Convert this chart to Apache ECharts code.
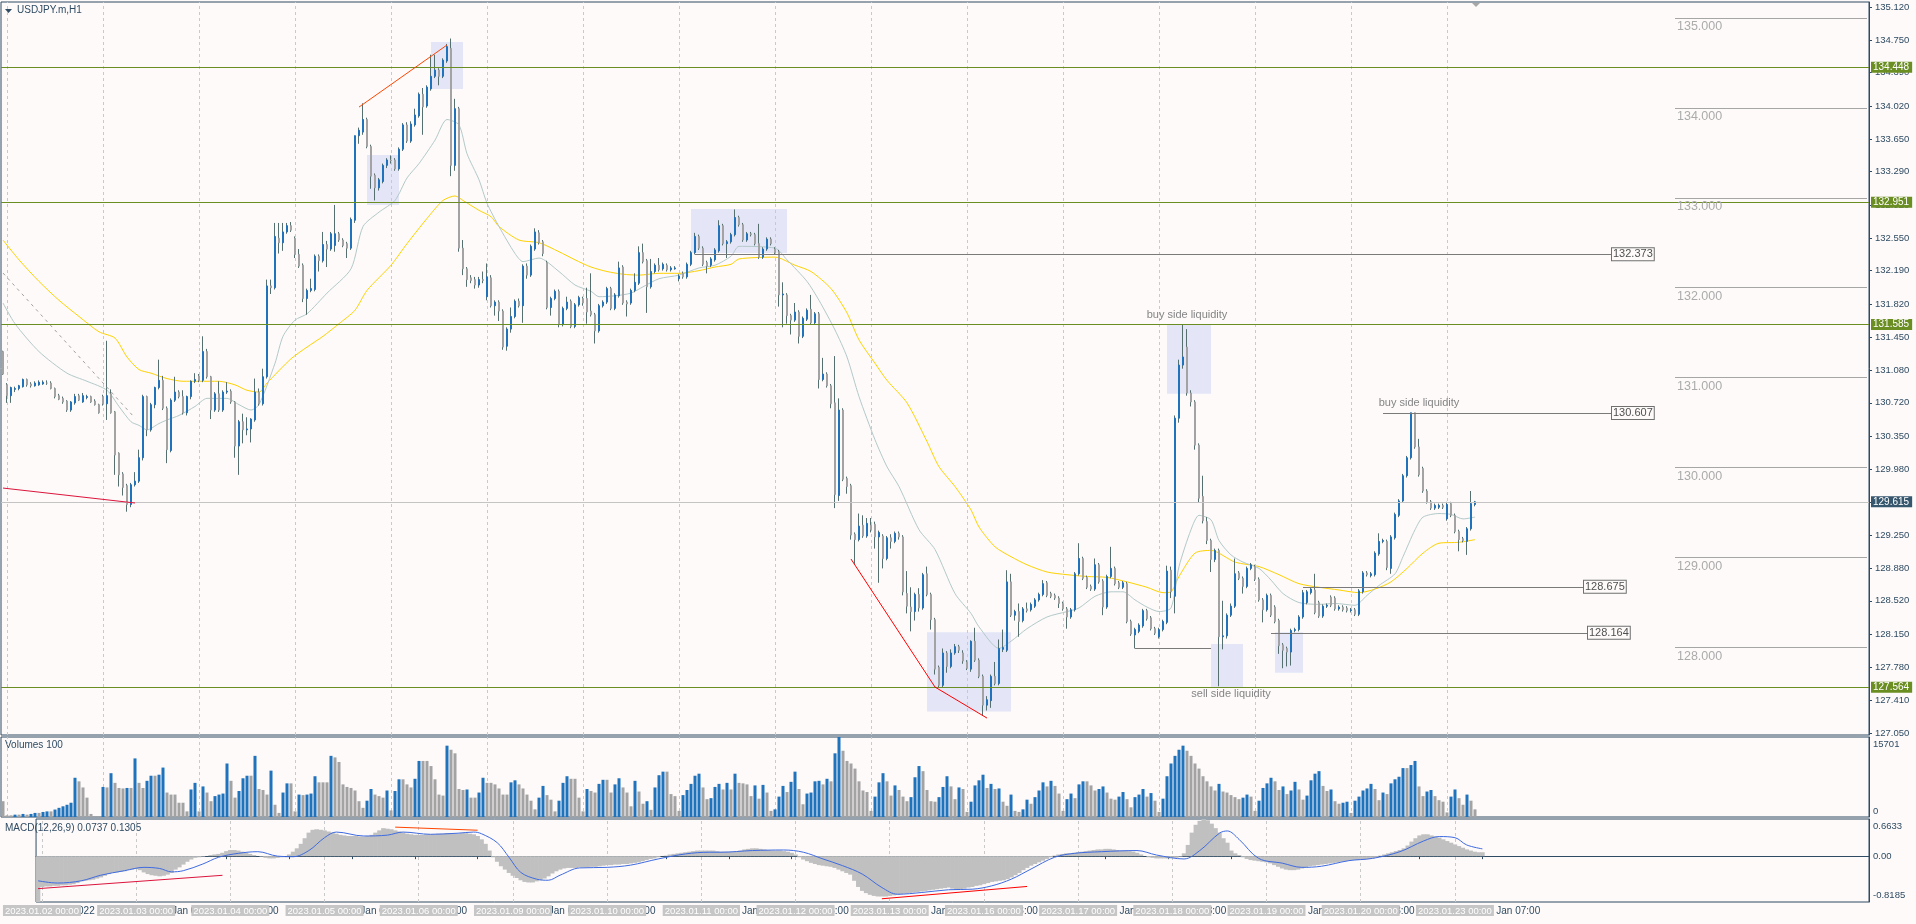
<!DOCTYPE html>
<html><head><meta charset="utf-8">
<script src="https://cdn.jsdelivr.net/npm/echarts@6/dist/echarts.min.js"></script>
<style>html,body{margin:0;padding:0;background:#FDFAF9;}#c{width:1916px;height:924px;}</style>
</head><body><div id="c"></div>
<script>
// ---------------- DATA ----------------
const symbolTitle = 'USDJPY.m,H1';
const volumeTitle = 'Volumes 100';
const macdTitle = 'MACD(12,26,9) 0.0737 0.1305';
const dayLabels = ['2023.01.02','2023.01.03','2023.01.04','2023.01.05','2023.01.06','2023.01.09','2023.01.10','2023.01.11','2023.01.12','2023.01.13','2023.01.16','2023.01.17','2023.01.18','2023.01.19','2023.01.20','2023.01.23'];
const firstBarLabel = '2022.12.30 23:00';
const firstAxisLabel = '30 Dec 2022';
const monthNames = ['Jan','Feb','Mar','Apr','May','Jun','Jul','Aug','Sep','Oct','Nov','Dec'];
const barsOnLastDay = 8;
const totalSlots = 467;
const axisLabelEvery = 16;

// [open, high, low, close] per H1 bar
const priceBars = [
[131.29,131.30,131.03,131.04],[130.92,130.94,130.72,130.80],[130.80,130.90,130.72,130.89],[130.87,130.90,130.84,130.88],[130.88,130.92,130.86,130.91],[130.90,130.99,130.89,130.98],[130.98,130.99,130.90,130.92],[130.93,130.95,130.89,130.91],[130.91,130.96,130.90,130.94],[130.92,130.97,130.91,130.95],
[130.93,130.97,130.92,130.95],[130.94,130.97,130.92,130.94],[130.94,130.96,130.87,130.88],[130.88,130.89,130.77,130.79],[130.80,130.82,130.75,130.76],[130.77,130.79,130.71,130.73],[130.74,130.75,130.62,130.64],[130.64,130.74,130.62,130.73],[130.72,130.82,130.70,130.79],[130.80,130.82,130.74,130.75],
[130.73,130.83,130.72,130.80],[130.78,130.81,130.76,130.79],[130.79,130.80,130.72,130.73],[130.74,130.76,130.69,130.70],[130.70,130.71,130.60,130.61],[130.79,130.81,130.69,130.71],[130.71,131.41,130.53,130.80],[130.82,130.87,130.60,130.61],[130.62,130.63,129.92,130.14],[130.16,130.17,129.79,129.92],
[129.93,129.95,129.69,129.78],[129.80,129.82,129.51,129.59],[129.59,129.83,129.56,129.81],[129.81,129.95,129.79,129.85],[129.85,130.20,129.83,130.11],[130.11,130.81,130.08,130.79],[130.79,130.80,130.35,130.42],[130.42,130.72,130.40,130.70],[130.70,130.90,130.66,130.89],[130.89,131.20,130.87,130.97],
[130.97,131.02,130.64,130.66],[130.66,130.68,130.05,130.20],[130.19,130.77,130.17,130.75],[130.75,131.01,130.73,130.84],[130.84,130.86,130.77,130.79],[130.79,130.86,130.59,130.61],[130.61,130.80,130.58,130.79],[130.79,130.97,130.76,130.96],[130.96,131.05,130.94,130.98],[131.02,131.04,130.95,130.97],
[130.97,131.46,130.95,131.29],[131.29,131.32,130.99,131.01],[131.01,131.02,130.54,130.64],[130.64,130.84,130.62,130.82],[130.82,130.96,130.62,130.64],[130.64,130.86,130.62,130.84],[130.84,130.95,130.82,130.85],[130.85,130.87,130.71,130.73],[130.73,130.74,130.11,130.24],[130.24,130.53,129.92,130.51],
[130.51,130.60,130.27,130.42],[130.42,130.56,130.36,130.43],[130.43,130.55,130.28,130.54],[130.53,130.99,130.51,130.84],[130.84,130.88,130.69,130.71],[130.71,131.10,130.69,131.01],[131.01,132.09,130.99,132.02],[132.02,132.09,131.93,132.00],[132.00,132.72,131.98,132.57],[132.55,132.72,132.38,132.50],
[132.50,132.72,132.41,132.62],[132.62,132.72,132.60,132.69],[132.69,132.73,132.62,132.64],[132.55,132.57,132.33,132.37],[132.37,132.43,132.22,132.24],[132.25,132.27,131.84,131.88],[131.88,131.99,131.70,131.97],[131.97,132.10,131.95,131.99],[131.98,132.37,131.96,132.35],[132.35,132.37,132.18,132.30],
[132.30,132.62,132.28,132.48],[132.48,132.52,132.23,132.43],[132.43,132.62,132.41,132.60],[132.47,132.92,132.40,132.60],[132.60,132.62,132.51,132.53],[132.53,132.55,132.45,132.47],[132.49,132.51,132.33,132.44],[132.44,132.78,132.42,132.76],[132.75,133.69,132.72,133.69],[133.69,133.78,133.60,133.75],
[133.73,134.05,133.70,133.87],[133.87,133.89,133.55,133.57],[133.57,133.59,133.10,133.24],[133.25,133.27,132.97,133.11],[133.11,133.22,133.08,133.20],[133.18,133.38,133.16,133.36],[133.36,133.44,133.33,133.42],[133.42,133.47,133.38,133.41],[133.42,133.44,133.30,133.32],[133.32,133.56,133.30,133.54],
[133.54,133.83,133.52,133.81],[133.81,133.84,133.61,133.63],[133.63,133.85,133.61,133.82],[133.81,133.99,133.79,133.92],[133.91,134.17,133.89,134.15],[134.15,134.22,133.70,134.01],[134.02,134.25,134.00,134.23],[134.21,134.59,134.19,134.35],[134.35,134.59,134.33,134.42],[134.42,134.44,134.25,134.35],
[134.35,134.55,134.33,134.53],[134.52,134.71,134.50,134.68],[134.66,134.77,133.24,133.36],[133.36,134.10,133.30,133.99],[133.99,134.01,132.40,132.44],[132.44,132.53,132.14,132.21],[132.21,132.23,132.01,132.09],[132.11,132.14,132.05,132.08],[132.09,132.12,131.99,132.03],[132.03,132.12,132.00,132.09],
[132.09,132.18,132.05,132.08],[131.90,132.27,131.86,132.12],[132.11,132.14,131.78,131.80],[131.80,131.86,131.69,131.84],[131.84,131.86,131.63,131.74],[131.74,131.76,131.31,131.34],[131.35,131.56,131.30,131.54],[131.54,131.78,131.50,131.68],[131.68,131.87,131.66,131.85],[131.85,131.88,131.78,131.80],
[131.80,132.26,131.61,132.24],[132.24,132.27,132.10,132.14],[132.14,132.48,132.12,132.46],[132.43,132.66,132.41,132.62],[132.61,132.64,132.48,132.50],[132.51,132.53,132.35,132.38],[132.28,132.30,131.76,131.78],[131.78,131.90,131.69,131.88],[131.88,131.98,131.86,131.96],[131.96,131.98,131.56,131.59],
[131.59,131.79,131.57,131.77],[131.77,131.90,131.75,131.84],[131.85,131.87,131.55,131.57],[131.57,131.83,131.55,131.81],[131.81,131.91,131.79,131.89],[131.88,131.90,131.80,131.83],[131.88,132.00,131.60,131.73],[131.74,132.16,131.68,131.70],[131.70,131.72,131.38,131.52],[131.52,131.82,131.50,131.80],
[131.80,131.86,131.78,131.84],[131.84,132.01,131.82,131.99],[131.99,132.01,131.75,131.77],[131.77,131.94,131.75,131.92],[131.91,132.29,131.89,132.22],[132.23,132.25,131.81,131.83],[131.84,131.86,131.68,131.82],[131.83,131.99,131.81,131.97],[131.97,132.16,131.95,132.06],[132.05,132.46,132.03,132.39],
[132.39,132.49,132.27,132.29],[132.30,132.32,131.72,132.01],[132.01,132.32,131.99,132.18],[132.18,132.27,132.16,132.25],[132.25,132.33,132.18,132.20],[132.21,132.28,132.19,132.26],[132.25,132.27,132.18,132.20],[132.20,132.24,132.18,132.22],[132.21,132.24,132.20,132.22],[132.10,132.15,132.07,132.13],
[132.16,132.18,132.10,132.12],[132.12,132.28,132.10,132.26],[132.26,132.41,132.24,132.39],[132.39,132.61,132.37,132.57],[132.57,132.59,132.42,132.44],[132.44,132.46,132.24,132.26],[132.28,132.30,132.16,132.24],[132.25,132.34,132.23,132.32],[132.31,132.44,132.29,132.42],[132.41,132.75,132.39,132.69],
[132.69,132.71,132.47,132.49],[132.49,132.53,132.33,132.51],[132.51,132.61,132.49,132.59],[132.59,132.87,132.57,132.78],[132.78,132.80,132.68,132.70],[132.70,132.72,132.51,132.53],[132.53,132.62,132.51,132.60],[132.60,132.62,132.57,132.59],[132.59,132.61,132.47,132.49],[132.49,132.71,132.32,132.34],
[132.34,132.45,132.32,132.43],[132.43,132.56,132.41,132.54],[132.54,132.56,132.47,132.49],[132.43,132.45,132.37,132.39],[132.40,132.42,131.79,131.92],[131.92,132.06,131.56,131.93],[131.92,131.94,131.60,131.69],[131.69,131.71,131.48,131.64],[131.64,131.83,131.62,131.73],[131.73,131.75,131.38,131.46],
[131.46,131.68,131.44,131.66],[131.65,131.77,131.63,131.75],[131.76,131.92,131.59,131.61],[131.61,131.73,131.59,131.71],[131.71,131.73,130.88,130.98],[130.98,131.22,130.96,131.04],[131.04,131.06,130.89,130.91],[130.91,130.93,130.66,130.71],[130.72,131.24,129.55,129.70],[129.69,130.77,129.63,130.64],
[130.64,130.66,129.85,129.87],[129.88,129.90,129.71,129.79],[129.80,129.82,129.20,129.25],[129.26,129.28,128.93,129.20],[129.20,129.49,129.18,129.35],[129.36,129.47,129.22,129.24],[129.24,129.44,129.22,129.38],[129.36,129.44,129.28,129.31],[129.37,129.40,129.10,129.23],[129.23,129.30,128.72,129.28],
[129.24,129.26,128.88,128.99],[128.99,129.24,128.97,129.22],[129.22,129.26,129.10,129.18],[129.18,129.29,129.16,129.27],[129.27,129.29,129.20,129.23],[129.23,129.25,128.58,128.62],[128.60,128.85,128.38,128.46],[128.45,128.67,128.18,128.40],[128.40,128.61,128.30,128.59],[128.59,128.66,128.40,128.44],
[128.44,128.83,128.42,128.81],[128.82,128.90,128.57,128.59],[128.59,128.61,128.20,128.31],[128.31,128.33,127.70,127.76],[127.78,127.80,127.55,127.58],[127.58,127.99,127.56,127.94],[127.94,127.96,127.72,127.79],[127.79,127.98,127.77,127.94],[127.94,128.04,127.92,128.01],[128.01,128.03,127.94,127.97],
[127.94,127.97,127.82,127.85],[127.84,127.86,127.75,127.77],[127.76,128.08,127.73,128.07],[128.07,128.22,127.84,127.86],[127.86,127.88,127.66,127.68],[127.68,127.70,127.24,127.36],[127.36,127.46,127.30,127.42],[127.41,127.70,127.33,127.68],[127.68,127.84,127.58,127.60],[127.60,128.09,127.58,127.99],
[127.98,128.20,127.95,128.00],[127.97,128.86,127.95,128.73],[128.73,128.82,128.34,128.36],[128.36,128.42,128.30,128.40],[128.40,128.49,128.12,128.29],[128.30,128.45,128.28,128.43],[128.43,128.50,128.39,128.41],[128.42,128.50,128.40,128.48],[128.46,128.55,128.44,128.53],[128.53,128.61,128.51,128.59],
[128.59,128.75,128.57,128.71],[128.72,128.74,128.56,128.58],[128.60,128.62,128.55,128.57],[128.58,128.60,128.53,128.55],[128.55,128.57,128.44,128.49],[128.49,128.51,128.41,128.43],[128.43,128.45,128.21,128.34],[128.34,128.44,128.32,128.42],[128.42,128.84,128.40,128.82],[128.82,129.16,128.80,128.99],
[128.99,129.01,128.75,128.77],[128.78,128.80,128.65,128.67],[128.68,128.70,128.63,128.65],[128.65,128.99,128.63,128.92],[128.92,128.94,128.71,128.73],[128.74,128.76,128.36,128.45],[128.45,128.81,128.43,128.79],[128.79,129.12,128.77,128.88],[128.88,128.90,128.69,128.71],[128.72,128.74,128.65,128.67],
[128.67,128.74,128.65,128.72],[128.71,128.73,128.27,128.29],[128.29,128.31,128.13,128.15],[128.14,128.22,127.99,128.20],[128.18,128.27,128.16,128.25],[128.24,128.43,128.22,128.41],[128.41,128.43,128.30,128.32],[128.33,128.35,128.19,128.21],[128.21,128.23,128.14,128.16],[128.12,128.22,128.10,128.20],
[128.20,128.31,128.18,128.29],[128.28,128.91,128.26,128.85],[128.86,128.90,128.55,128.62],[128.57,130.58,128.38,130.55],[130.55,131.20,130.50,131.14],[131.14,131.59,131.10,131.23],[131.34,131.54,130.80,130.83],[130.83,130.86,130.68,130.73],[130.73,130.75,130.20,130.25],[130.25,130.27,129.61,129.66],
[129.68,129.91,129.38,129.41],[129.40,129.45,129.15,129.19],[129.19,129.21,128.84,128.98],[128.98,129.10,128.95,129.08],[129.08,129.10,127.57,128.12],[128.12,128.52,127.98,128.13],[128.13,128.38,128.10,128.36],[128.36,128.49,128.34,128.46],[128.46,128.99,128.44,128.82],[128.83,128.85,128.75,128.77],
[128.77,128.79,128.60,128.68],[128.68,128.90,128.66,128.88],[128.88,128.94,128.86,128.92],[128.90,128.92,128.74,128.76],[128.76,128.78,128.51,128.53],[128.53,128.55,128.28,128.42],[128.42,128.60,128.40,128.58],[128.58,128.60,128.34,128.36],[128.45,128.47,128.27,128.29],[128.30,128.32,127.93,128.02],
[128.03,128.05,127.77,127.97],[127.99,128.01,127.79,127.95],[127.95,128.21,127.80,128.19],[128.19,128.22,128.17,128.20],[128.20,128.36,128.18,128.34],[128.34,128.64,128.32,128.61],[128.50,128.64,128.48,128.62],[128.61,128.67,128.59,128.65],[128.64,128.82,128.37,128.39],[128.50,128.52,128.33,128.35],
[128.35,128.48,128.33,128.46],[128.46,128.49,128.44,128.47],[128.56,128.58,128.45,128.47],[128.55,128.57,128.41,128.43],[128.43,128.47,128.41,128.45],[128.45,128.47,128.40,128.42],[128.44,128.46,128.39,128.41],[128.41,128.44,128.39,128.42],[128.42,128.44,128.35,128.37],[128.37,128.65,128.35,128.63],
[128.62,128.85,128.60,128.83],[128.83,128.85,128.79,128.81],[128.80,128.84,128.78,128.82],[128.81,129.07,128.79,129.05],[129.04,129.27,129.02,129.18],[129.18,129.21,129.16,129.19],[129.18,129.20,128.86,128.89],[128.88,129.25,128.82,129.23],[129.22,129.50,129.20,129.48],[129.47,129.65,129.45,129.63],
[129.63,129.93,129.61,129.91],[129.91,130.13,129.89,130.11],[130.11,130.61,130.09,130.61],[130.61,130.61,130.21,130.23],[130.23,130.32,129.90,129.92],[129.99,130.01,129.72,129.74],[129.74,129.76,129.60,129.62],[129.62,129.64,129.53,129.55],[129.55,129.60,129.53,129.58],[129.56,129.60,129.54,129.58],
[129.58,129.60,129.54,129.56],[129.43,129.62,129.41,129.59],[129.60,129.62,129.45,129.47],[129.47,129.49,129.27,129.29],[129.29,129.31,129.07,129.20],[129.21,129.23,129.17,129.19],[129.18,129.34,129.03,129.32],[129.32,129.74,129.30,129.60],[129.59,129.63,129.57,129.62]
];

const volumes = [3100,
330,330,460,460,600,460,600,800,800,990,1100,1100,1460,1800,2100,2400,2800,7700,7000,5800,3800,600,150,150,
5900,5800,8600,6700,5700,5600,5700,5700,11500,6700,5700,7100,8100,8100,8300,9700,4800,4400,4400,2800,2800,1100,5400,6700,
1100,6000,4800,3100,4100,4400,4600,10500,7100,3800,5100,7600,8100,8100,12000,5500,5300,4400,9100,2400,800,4800,6600,6600,
1100,4400,4300,4400,4600,8000,6800,6800,6800,12000,11700,10800,6400,5900,5700,5200,3100,1800,3200,5500,4400,4100,3800,5200,
1300,5100,7400,7400,6400,5800,7500,11000,11000,11000,10000,7400,4400,4200,14000,13200,12500,5500,5300,5400,3800,3800,4800,7700,
6700,6700,6400,5600,4400,4400,6800,7200,6400,5600,4400,3200,1500,3800,6100,4300,3400,1100,3200,6700,8000,7500,7500,3800,
1100,5500,5100,4800,6500,7300,7300,4800,6400,7600,5800,4800,2100,7100,5000,2600,3100,1400,5800,8200,8900,8900,4500,4100,
1200,4300,5300,6500,8100,8500,5800,3500,3700,5900,6500,5400,6700,5400,8500,6700,6600,6400,4100,6200,3600,6300,4800,1200,
1500,4000,6100,4900,6900,8900,5500,2500,4600,4800,7000,7100,6400,7500,7000,12500,15701,13000,11000,10500,9500,7000,5200,4900,
1200,4000,6800,8600,7000,4200,6200,5300,4000,3100,3900,7800,10000,9000,5300,3100,3000,3900,5900,8000,6000,3500,5800,5500,
1000,3000,6200,7200,8300,5700,6500,5500,5600,3000,2200,4400,1200,1000,1500,3400,2600,3900,5200,6800,6000,7100,6100,4600,
1200,3500,4600,3700,6400,7000,7000,6200,5200,5500,6000,4800,3600,3400,4000,4900,3500,1900,3900,4400,5500,4000,4700,3200,
1000,3600,8000,10500,12000,13200,14000,13000,12000,10500,9500,8000,7000,6000,5200,6500,5000,4800,4300,3900,3500,3800,4400,4000,
1200,3200,5700,6600,7700,7000,5300,6000,4500,5200,6900,5400,3400,4200,7200,8500,9000,6100,5100,5400,3100,2600,2800,3000,
800,3200,4000,5200,5600,6500,5500,3300,4800,4500,6600,7400,7900,9600,9600,10200,11000,6000,4100,5000,5300,4100,3300,3000,
900,4000,5400,3700,2400,4400,3200,1500];

const macdMain = [-0.82,
-0.55,-0.54,-0.54,-0.53,-0.53,-0.52,-0.52,-0.51,-0.50,-0.48,
-0.45,-0.44,-0.43,-0.42,-0.40,-0.38,-0.35,-0.32,
-0.30,-0.29,-0.28,-0.27,-0.25,-0.24,-0.23,
-0.25,-0.29,-0.32,-0.34,-0.35,-0.36,-0.35,
-0.33,-0.30,-0.24,-0.20,-0.15,-0.10,
-0.06,-0.03,-0.02,-0.01,0.0,0.02,0.03,0.04,
0.06,0.09,0.11,0.11,0.10,0.08,
0.06,0.04,0.02,0.0,-0.01,-0.03,-0.04,-0.04,
-0.03,-0.02,0.0,0.03,0.08,0.14,
0.22,0.32,0.42,0.47,0.48,0.47,0.46,
0.44,0.42,0.40,0.38,0.37,0.36,0.36,
0.36,0.35,0.35,0.36,0.38,0.42,0.46,
0.50,0.49,0.48,0.46,0.44,
0.42,0.40,0.39,0.38,0.38,0.38,0.39,0.39,0.39,0.40,0.40,0.41,0.41,0.40,0.40,0.41,0.41,0.40,0.39,
0.36,0.30,0.22,0.10,-0.02,-0.10,-0.18,
-0.24,-0.30,-0.35,-0.39,-0.43,-0.46,-0.47,-0.47,-0.45,-0.43,
-0.40,-0.36,-0.31,-0.27,-0.24,-0.22,-0.21,
-0.21,-0.21,-0.20,-0.20,-0.20,-0.19,-0.19,
-0.18,-0.17,-0.16,-0.16,-0.15,-0.15,-0.14,-0.14,
-0.13,-0.12,-0.11,-0.09,-0.07,-0.05,-0.04,-0.02,0.0,0.01,
0.03,0.04,0.05,0.06,0.07,0.08,0.09,0.10,0.10,0.10,0.10,0.10,0.09,0.08,
0.08,0.08,0.08,0.09,0.10,0.12,0.13,0.14,0.14,0.13,0.12,
0.11,0.10,0.10,0.10,0.09,0.08,0.06,0.03,-0.02,
-0.06,-0.09,-0.12,-0.14,-0.16,-0.17,-0.18,-0.19,
-0.21,-0.24,-0.27,-0.30,-0.33,-0.44,-0.55,-0.62,
-0.66,-0.69,-0.71,-0.72,-0.72,-0.72,-0.71,-0.70,
-0.69,-0.68,-0.67,-0.66,-0.65,-0.64,-0.63,-0.62,-0.61,-0.60,-0.59,-0.58,-0.57,-0.56,
-0.58,-0.60,-0.60,-0.58,-0.56,-0.55,-0.53,-0.52,-0.50,-0.48,-0.46,
-0.45,-0.44,-0.43,-0.41,-0.38,-0.34,-0.30,-0.25,-0.21,
-0.17,-0.14,-0.11,-0.08,-0.05,-0.02,0.01,
0.03,0.04,0.05,0.05,0.06,0.07,0.08,0.09,0.10,0.11,0.12,
0.12,0.13,0.13,0.12,0.11,0.10,0.10,0.09,0.08,0.06,
0.03,0.0,-0.02,-0.03,-0.04,-0.04,-0.04,-0.04,-0.03,-0.03,-0.01,
0.05,0.20,0.42,0.56,0.63,0.66,0.64,0.58,
0.50,0.42,0.32,0.24,0.10,0.05,0.02,-0.02,
-0.05,-0.07,-0.08,-0.09,-0.10,-0.11,-0.13,-0.16,-0.19,
-0.22,-0.24,-0.25,-0.25,-0.24,-0.22,-0.20,-0.18,-0.17,-0.16,-0.15,
-0.14,-0.13,-0.12,-0.11,-0.10,-0.09,-0.08,-0.07,-0.07,-0.06,-0.06,-0.05,-0.04,
-0.02,0.01,0.03,0.05,0.07,0.09,0.11,0.14,0.19,0.26,
0.32,0.37,0.39,0.39,0.37,0.35,0.33,0.30,0.27,
0.24,0.21,0.18,0.15,0.12,0.10,0.08,0.07,0.07];

// [bar index, value]
const macdSignal = [[0,-0.44],[5,-0.48],[11,-0.44],[16,-0.34],[22,-0.26],[27,-0.20],[31,-0.22],[34,-0.28],[37,-0.26],[42,-0.14],[46,-0.02],[51,0.05],[56,0.08],[61,0.0],[65,-0.01],[69,0.10],[73,0.33],[76,0.43],[83,0.36],[89,0.375],[93,0.43],[100,0.39],[107,0.41],[111,0.43],[113,0.40],[117,0.24],[120,-0.02],[123,-0.29],[127,-0.41],[130,-0.43],[133,-0.34],[138,-0.21],[145,-0.20],[151,-0.16],[158,-0.05],[165,0.04],[171,0.07],[174,0.07],[182,0.10],[190,0.11],[195,0.07],[200,-0.05],[205,-0.17],[210,-0.32],[215,-0.56],[219,-0.68],[225,-0.65],[232,-0.60],[238,-0.59],[243,-0.53],[248,-0.41],[253,-0.23],[259,-0.02],[264,0.05],[271,0.08],[280,0.10],[285,0.02],[292,-0.05],[296,0.10],[301,0.41],[303,0.45],[306,0.30],[311,-0.04],[317,-0.125],[322,-0.20],[327,-0.18],[334,-0.08],[340,-0.04],[347,0.08],[353,0.27],[357,0.35],[361,0.33],[364,0.20],[368,0.13]];

const maFast = [[0,131.83],[3,131.60],[9,131.29],[16,131.05],[21,130.96],[26,130.86],[29,130.68],[32,130.51],[34,130.47],[36,130.42],[39,130.49],[41,130.53],[44,130.58],[48,130.68],[51,130.77],[56,130.77],[59,130.70],[62,130.64],[64,130.70],[68,131.16],[70,131.46],[73,131.64],[76,131.71],[81,131.94],[87,132.21],[90,132.68],[94,132.84],[98,132.97],[101,133.22],[104,133.38],[108,133.64],[111,133.87],[114,133.81],[116,133.49],[119,133.20],[121,132.94],[124,132.68],[128,132.38],[130,132.29],[134,132.33],[139,132.18],[143,132.03],[147,131.96],[149,131.90],[153,131.91],[157,131.94],[160,132.01],[164,132.10],[169,132.14],[174,132.22],[178,132.25],[182,132.35],[184,132.46],[193,132.44],[196,132.31],[201,132.07],[204,131.86],[208,131.53],[211,131.23],[214,130.79],[218,130.31],[221,130.01],[224,129.79],[229,129.31],[233,129.09],[238,128.60],[242,128.38],[244,128.23],[249,127.99],[252,128.07],[256,128.21],[261,128.34],[266,128.40],[269,128.44],[273,128.57],[277,128.62],[280,128.62],[283,128.53],[286,128.45],[289,128.40],[292,128.44],[294,128.90],[297,129.31],[299,129.47],[302,129.42],[304,129.19],[307,129.03],[310,128.95],[314,128.88],[317,128.75],[320,128.60],[324,128.50],[329,128.48],[333,128.49],[338,128.47],[341,128.58],[344,128.69],[348,128.82],[350,129.01],[353,129.31],[355,129.45],[359,129.49],[362,129.48],[365,129.43],[368,129.45]];

const maSlow = [[0,132.53],[4,132.31],[9,132.07],[14,131.86],[19,131.68],[24,131.51],[28,131.44],[31,131.23],[34,131.09],[37,131.05],[41,130.99],[45,130.96],[49,130.96],[54,130.96],[58,130.92],[61,130.86],[64,130.84],[66,130.94],[72,131.21],[76,131.34],[80,131.46],[84,131.60],[88,131.75],[91,131.97],[97,132.25],[101,132.49],[106,132.77],[110,132.97],[113,133.02],[115,132.97],[119,132.86],[122,132.79],[124,132.68],[129,132.53],[134,132.50],[139,132.40],[143,132.31],[147,132.23],[151,132.18],[155,132.15],[159,132.14],[164,132.16],[169,132.16],[174,132.19],[178,132.23],[182,132.26],[184,132.32],[193,132.34],[198,132.25],[202,132.18],[207,131.99],[211,131.72],[214,131.42],[218,131.16],[221,130.97],[226,130.72],[231,130.29],[234,130.01],[238,129.79],[242,129.53],[244,129.34],[248,129.12],[252,129.01],[256,128.92],[261,128.84],[266,128.81],[271,128.79],[276,128.78],[281,128.73],[286,128.67],[290,128.61],[292,128.62],[294,128.79],[298,129.05],[302,129.08],[308,128.95],[314,128.90],[319,128.81],[324,128.71],[329,128.67],[334,128.64],[339,128.61],[343,128.65],[347,128.73],[351,128.88],[355,129.05],[359,129.16],[364,129.17],[368,129.20]];

const priceTickLabels = ['135.120','134.750','134.390','134.020','133.650','133.290','132.920','132.550','132.190','131.820','131.450','131.080','130.720','130.350','129.980','129.610','129.250','128.880','128.520','128.150','127.780','127.410','127.050'];
const volumeTickLabels = ['0','15701'];
const macdTickLabels = ['-0.8185','0.00','0.6633'];
const volumeMax = 15701;
const macdMin = -0.8185, macdMax = 0.6633;
const priceMin = 127.028, priceMax = 135.176;

const levelLines = [134.448, 132.951, 131.585, 127.564];
const levelLabels = ['134.448','132.951','131.585','127.564'];
const currentPrice = 129.615, currentPriceLabel = '129.615';
const roundLevels = [135,134,133,132,131,130,129,128];
const roundLabels = ['135.000','134.000','133.000','132.000','131.000','130.000','129.000','128.000'];
const roundFromBar = 418;
// price tags: [price, label, fromBar, toBar]
const priceTags = [[132.373,'132.373',173,402],[130.607,'130.607',345,402],[128.675,'128.675',325,395],[128.164,'128.164',317,396]];
const sellSideLine = [127.99, 283, 302];
// rectangles: [fromBar, toBar, topPrice, bottomPrice]
const zones = [[107,115,134.73,134.21],[91,99,133.475,132.92],[172,196,132.875,132.385],[231,252,128.17,127.29],[291,302,131.585,130.82],[302,310,128.04,127.55],[318,325,128.17,127.72]];
// trend lines: [bar1, price1, bar2, price2, kind]
const trendLines = [[89,134.008,111,134.698,'orange'],[0,129.773,33,129.607,'crimson'],[212,128.984,233,127.561,'red'],[233,127.561,246,127.216,'red'],[0,132.163,33,130.551,'dash']];
const macdTrendLines = [[0,-0.58,47,-0.342,'crimson'],[91,0.518,112,0.463,'orange'],[215,-0.761,252,-0.541,'red']];
// text notes: [bar, price, text]
const notes = [[296,131.696,'buy side liquidity'],[354,130.72,'buy side liquidity'],[307,127.48,'sell side liquidity']];

// ---------------- BUILD ----------------
const categories = [firstBarLabel];
dayLabels.forEach((d, i) => {
  const n = i === dayLabels.length - 1 ? barsOnLastDay : 24;
  for (let h = 0; h < n; h++) categories.push(d + ' ' + String(h).padStart(2, '0') + ':00');
});
const nBars = categories.length;
while (categories.length < totalSlots) categories.push('~' + categories.length);
const dayStarts = [];
for (let i = 1; i < nBars; i += 24) dayStarts.push(i);
const terminalLabel = (v, idx) => {
  if (idx === 0) return firstAxisLabel;
  const m = /^(\d{4})\.(\d{2})\.(\d{2}) (\d{2}:\d{2})$/.exec(v);
  if (!m) return '';
  return (+m[3]) + ' ' + monthNames[+m[2] - 1] + ' ' + m[4];
};

const BULL = '#1F72BC', BEAR = '#A3A3A3', WICK = '#55706F';
const GREEN = '#6B8E23', FRAME = '#2F4B63', TXT = '#2F4B63', BG = '#FDFAF9';
const FONT = 'Liberation Sans';
const colorMap = {orange: '#FF4500', crimson: '#DC143C', red: '#FF0000', dash: '#A0A0A0'};

const wickData = priceBars.map(b => [b[0], b[3], b[2], b[1]]);
const bodyData = priceBars.map(b => [b[0], b[3], Math.min(b[0], b[3]), Math.max(b[0], b[3])]);
const volData = volumes.map((v, i) => ({value: v, itemStyle: {color: (i > 0 && v > volumes[i - 1]) ? BULL : BEAR}}));

const gridLineMarks = (z) => ({
  silent: true, symbol: ['none', 'none'], z: z, animation: false,
  label: {show: false},
  lineStyle: {color: '#C9C9C9', type: [3, 3], width: 1},
  data: dayStarts.map(k => ({xAxis: k}))
});

const mainLines = [];
levelLines.forEach((p, i) => mainLines.push({yAxis: p, lineStyle: {color: GREEN, width: 1, type: 'solid'},
  label: {show: true, position: 'end', distance: 2, formatter: levelLabels[i], color: '#FFFFFF', backgroundColor: GREEN, padding: [1, 3, 0, 2], fontSize: 10, fontFamily: FONT}}));
mainLines.push({yAxis: currentPrice, lineStyle: {color: '#C4C4C4', width: 1, type: 'solid'},
  label: {show: true, position: 'end', distance: 2, formatter: currentPriceLabel, color: '#FFFFFF', backgroundColor: '#36566E', padding: [1, 3, 0, 2], fontSize: 10, fontFamily: FONT}});
roundLevels.forEach((p, i) => {
  const st = {lineStyle: {color: '#A6A6A6', width: 1, type: 'solid'}, label: {show: true, position: 'insideStartBottom', distance: 2, formatter: roundLabels[i], color: '#ABABAB', fontSize: 12.5, fontFamily: FONT}};
  mainLines.push([Object.assign({coord: [roundFromBar, p]}, st), Object.assign({coord: [totalSlots - 1, p]}, st)]);
});
priceTags.forEach(t => {
  const st = {lineStyle: {color: '#7A7A7A', width: 1, type: 'solid'}, label: {show: true, position: 'end', distance: 1, formatter: t[1], color: '#505050', backgroundColor: BG, borderColor: '#707070', borderWidth: 1, padding: [1, 1, 0, 1], fontSize: 11, fontFamily: FONT}};
  mainLines.push([Object.assign({coord: [t[2], t[0]]}, st), Object.assign({coord: [t[3], t[0]]}, st)]);
});
{
  const st = {lineStyle: {color: '#7A7A7A', width: 1, type: 'solid'}, label: {show: false}};
  mainLines.push([Object.assign({coord: [sellSideLine[1], sellSideLine[0]]}, st), Object.assign({coord: [sellSideLine[2], sellSideLine[0]]}, st)]);
}
trendLines.forEach(t => {
  const st = {lineStyle: {color: colorMap[t[4]], width: 1, type: t[4] === 'dash' ? [3, 4] : 'solid'}, label: {show: false}};
  mainLines.push([Object.assign({coord: [t[0], t[1]]}, st), Object.assign({coord: [t[2], t[3]]}, st)]);
});
const macdLines = macdTrendLines.map(t => {
  const st = {lineStyle: {color: colorMap[t[4]], width: 1, type: 'solid'}, label: {show: false}};
  return [Object.assign({coord: [t[0], t[1]]}, st), Object.assign({coord: [t[2], t[3]]}, st)];
});

const priceTickValues = priceTickLabels.map(Number);
const volLabelVals = [volumeMax * 6 / 80, volumeMax * (1 - 7 / 80)];
const macdSpan = macdMax - macdMin;
const macdLabelVals = [macdMin + macdSpan * 7 / 83, 0, macdMax - macdSpan * 7 / 83];

const axisLbl = {color: TXT, fontSize: 9.5, fontFamily: FONT, margin: 6};
const isTerminalTick = (i) => i % axisLabelEvery === 0 && i < nBars;

const option = {
  backgroundColor: BG,
  animation: false,
  textStyle: {fontFamily: FONT},
  grid: [
    {left: 1, width: 1868, top: 2, height: 733, show: true, borderColor: FRAME, borderWidth: 1, backgroundColor: 'transparent'},
    {left: 1, width: 1868, top: 737, height: 80, show: true, borderColor: FRAME, borderWidth: 1, backgroundColor: 'transparent'},
    {left: 1, width: 1868, top: 819, height: 83, show: true, borderColor: FRAME, borderWidth: 1, backgroundColor: 'transparent'}
  ],
  xAxis: [
    {type: 'category', gridIndex: 0, data: categories, boundaryGap: true, show: false},
    {type: 'category', gridIndex: 1, data: categories, boundaryGap: true, show: false},
    {type: 'category', gridIndex: 2, data: categories, boundaryGap: true, position: 'bottom', z: 0,
      axisLine: {show: true, lineStyle: {color: FRAME}},
      axisTick: {show: true, alignWithLabel: true, length: 3, interval: isTerminalTick, lineStyle: {color: FRAME}},
      axisLabel: {show: true, interval: isTerminalTick, align: 'left', margin: 4, color: TXT, fontSize: 10, fontFamily: FONT,
        formatter: terminalLabel, hideOverlap: false},
      splitLine: {show: false}},
    {type: 'category', gridIndex: 2, data: categories, boundaryGap: true, position: 'bottom', offset: 0, z: 3,
      axisLine: {show: false}, axisTick: {show: false},
      axisLabel: {show: true, interval: (i) => dayStarts.indexOf(i) >= 0, align: 'center', margin: 3, color: '#FFFFFF', backgroundColor: '#C6C6C6', padding: [1, 2, 0, 2], fontSize: 9.5, fontFamily: FONT, hideOverlap: false},
      splitLine: {show: false}}
  ],
  yAxis: [
    {type: 'value', gridIndex: 0, position: 'right', min: priceMin, max: priceMax, scale: true,
      axisLine: {show: true, lineStyle: {color: FRAME}},
      axisTick: {show: true, inside: false, length: 3, customValues: priceTickValues, lineStyle: {color: FRAME}},
      axisLabel: Object.assign({customValues: priceTickValues, formatter: (v) => {
        const i = priceTickValues.findIndex(x => Math.abs(x - v) < 1e-6); return i >= 0 ? priceTickLabels[i] : ''; }}, axisLbl),
      splitLine: {show: false}},
    {type: 'value', gridIndex: 1, position: 'right', min: 0, max: volumeMax,
      axisLine: {show: true, lineStyle: {color: FRAME}}, axisTick: {show: false},
      axisLabel: Object.assign({customValues: volLabelVals, formatter: (v) => v < volumeMax / 2 ? volumeTickLabels[0] : volumeTickLabels[1]}, axisLbl, {margin: 4}),
      splitLine: {show: false}},
    {type: 'value', gridIndex: 2, position: 'right', min: macdMin, max: macdMax,
      axisLine: {show: true, lineStyle: {color: FRAME}}, axisTick: {show: false},
      axisLabel: Object.assign({customValues: macdLabelVals, formatter: (v) => v < -0.1 ? macdTickLabels[0] : (v > 0.1 ? macdTickLabels[2] : macdTickLabels[1])}, axisLbl, {margin: 4}),
      splitLine: {show: false}}
  ],
  series: [
    {type: 'line', name: 'MA slow', xAxisIndex: 0, yAxisIndex: 0, data: maSlow, showSymbol: false, symbol: 'none', smooth: 0.25,
      lineStyle: {color: '#FFD200', width: 1}, z: 3, silent: true,
      markLine: gridLineMarks(1)},
    {type: 'line', name: 'MA fast', xAxisIndex: 0, yAxisIndex: 0, data: maFast, showSymbol: false, symbol: 'none', smooth: 0.25,
      lineStyle: {color: '#B3C9C9', width: 1}, z: 3, silent: true,
      markArea: {silent: true, z: 1, itemStyle: {color: '#DFE2F7', opacity: 0.85},
        data: zones.map(r => [{coord: [r[0], r[2]]}, {coord: [r[1], r[3]]}])}},
    {type: 'candlestick', name: 'wicks', xAxisIndex: 0, yAxisIndex: 0, data: wickData, barWidth: 0.01, z: 4, silent: true,
      itemStyle: {color: WICK, color0: WICK, borderColor: WICK, borderColor0: WICK, borderWidth: 1}},
    {type: 'candlestick', name: 'bodies', xAxisIndex: 0, yAxisIndex: 0, data: bodyData, barWidth: 2.4, z: 5, silent: true,
      itemStyle: {color: BULL, color0: BEAR, borderColor: BULL, borderColor0: BEAR, borderWidth: 1},
      markLine: {silent: true, symbol: ['none', 'none'], z: 6, animation: false, data: mainLines},
      markPoint: {silent: true, symbol: 'circle', symbolSize: 1, itemStyle: {color: 'rgba(0,0,0,0)'}, z: 6,
        data: notes.map(n => ({coord: [n[0], n[1]], label: {show: true, position: 'inside', formatter: n[2], color: '#858585', fontSize: 11, fontFamily: FONT}}))}},
    {type: 'bar', name: 'volume', xAxisIndex: 1, yAxisIndex: 1, data: volData, barWidth: 3, silent: true, z: 3,
      markLine: gridLineMarks(1)},
    {type: 'bar', name: 'macd', xAxisIndex: 2, yAxisIndex: 2, data: macdMain, barWidth: 4.6, silent: true, z: 3,
      itemStyle: {color: '#C0C0C0'}, markLine: gridLineMarks(1)},
    {type: 'line', name: 'signal', xAxisIndex: 2, yAxisIndex: 2, data: macdSignal, showSymbol: false, symbol: 'none', smooth: 0.35,
      lineStyle: {color: '#3F6BE0', width: 1}, z: 4, silent: true,
      markLine: {silent: true, symbol: ['none', 'none'], z: 6, animation: false, data: macdLines}}
  ],
  graphic: [
    {type: 'polygon', shape: {points: [[5, 9], [12, 9], [8.5, 13]]}, style: {fill: TXT}, silent: true},
    {type: 'text', left: 17, top: 5, style: {text: symbolTitle, fill: TXT, font: '10px "Liberation Sans"'}, silent: true},
    {type: 'text', left: 5, top: 740, style: {text: volumeTitle, fill: TXT, font: '10px "Liberation Sans"'}, silent: true},
    {type: 'text', left: 5, top: 823, style: {text: macdTitle, fill: TXT, font: '10px "Liberation Sans"'}, silent: true},
    {type: 'polygon', shape: {points: [[1472, 3], [1480, 3], [1476, 7]]}, style: {fill: '#A8A8A8'}, silent: true}
  ]
};
const chart = echarts.init(document.getElementById('c'), null, {width: 1916, height: 924});
chart.setOption(option);
</script>
</body></html>
